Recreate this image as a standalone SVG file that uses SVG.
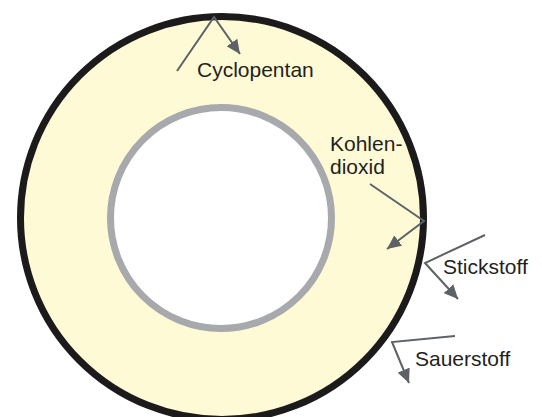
<svg xmlns="http://www.w3.org/2000/svg" width="542" height="417" viewBox="0 0 542 417">
<style>
.lbl{font-family:"Liberation Sans",Arial,sans-serif;font-size:21px;fill:#231f20}
.arr{fill:none;stroke:#5e6266;stroke-width:2;stroke-linejoin:miter;marker-end:url(#ah)}
</style>
<defs>
<marker id="ah" markerUnits="userSpaceOnUse" markerWidth="15" markerHeight="13" refX="14" refY="6.5" orient="auto">
<path d="M0,0 L14,6.5 L0,13 Z" fill="#5e6266"/>
</marker>
</defs>
<rect width="542" height="417" fill="#ffffff"/>
<g id="outer-tube">
<circle cx="222" cy="218" r="201.5" fill="#fffad6" stroke="#1d1a1b" stroke-width="7"/>
</g>
<g id="inner-tube">
<circle cx="221" cy="218" r="110.5" fill="#ffffff" stroke="#a7a9ac" stroke-width="7"/>
</g>
<g id="connectors">
<polyline class="arr" points="177,71 214,17 240,54"/>
<polyline class="arr" points="370,184 424,221 387,249"/>
<polyline class="arr" points="485,235 425,263 458,299"/>
<polyline class="arr" points="455,336 392,342 409,383"/>
</g>
<g id="cyclopentan"><text class="lbl" x="197" y="77">Cyclopentan</text></g>
<g id="kohlendioxid"><text class="lbl" x="330" y="151">Kohlen-</text><text class="lbl" x="330" y="174">dioxid</text></g>
<g id="stickstoff"><text class="lbl" x="443" y="274">Stickstoff</text></g>
<g id="sauerstoff"><text class="lbl" x="415" y="366">Sauerstoff</text></g>
</svg>
